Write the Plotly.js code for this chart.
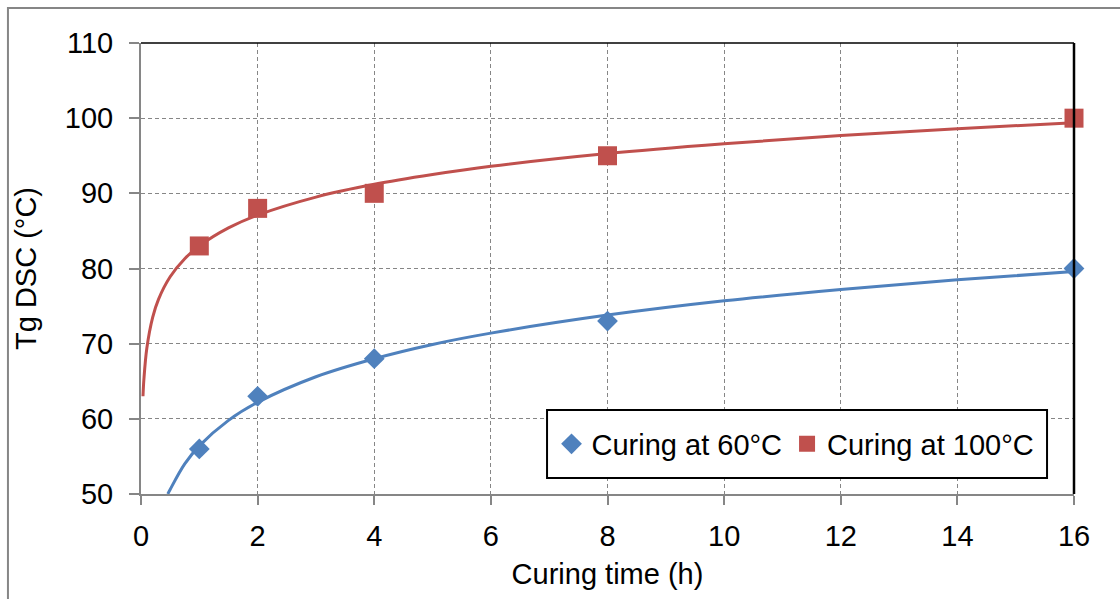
<!DOCTYPE html>
<html>
<head>
<meta charset="utf-8">
<script src="https://cdn.plot.ly/plotly-3.0.1.min.js"></script>
<style>html,body{margin:0;padding:0;background:#fff;}#chart{width:1120px;height:599px;}</style>
</head>
<body>
<div id="chart"></div>
<script>
// Measured points
const hours = [1, 2, 4, 8, 16];
const tg60 = [56, 63, 68, 73, 80];
const tg100 = [83, 88, 90, 95, 100];

// Logarithmic trendlines
const trend60X = [0.46, 0.5, 0.75, 1, 1.5, 2, 3, 4, 5, 6, 8, 10, 12, 14, 16];
const trend60Y = [50.0, 50.6, 54.0, 56.4, 59.8, 62.2, 65.6, 68.0, 69.9, 71.4, 73.8, 75.7, 77.2, 78.5, 79.6];
const trend100X = [0.034, 0.05, 0.1, 0.2, 0.3, 0.5, 0.75, 1, 1.5, 2, 3, 4, 5, 6, 8, 10, 12, 14, 16];
const trend100Y = [63.0, 65.3, 69.4, 73.5, 75.9, 78.9, 81.3, 83.0, 85.4, 87.1, 89.5, 91.2, 92.5, 93.6, 95.3, 96.6, 97.7, 98.6, 99.4];

const seriesNames = ['Curing at 60°C', 'Curing at 100°C'];
const xTicks = [0, 2, 4, 6, 8, 10, 12, 14, 16];
const yTicks = [50, 60, 70, 80, 90, 100, 110];

const blue = '#4F81BD';
const red = '#C0504D';
const grey = '#868686';
const font = 'Arial, "Liberation Sans", sans-serif';
const fs = 29;

const traces = [
  {x: trend60X, y: trend60Y, mode: 'lines', line: {color: blue, width: 3, shape: 'spline'}, showlegend: false, hoverinfo: 'skip'},
  {x: trend100X, y: trend100Y, mode: 'lines', line: {color: red, width: 3, shape: 'spline'}, showlegend: false, hoverinfo: 'skip'},
  {x: hours, y: tg60, mode: 'markers', name: seriesNames[0], cliponaxis: false, marker: {symbol: 'diamond', size: 16, color: blue}},
  {x: hours, y: tg100, mode: 'markers', name: seriesNames[1], cliponaxis: false, marker: {symbol: 'square', size: 19, color: red}}
];

const layout = {
  width: 1120, height: 599,
  margin: {l: 141, r: 46, t: 43, b: 105},
  paper_bgcolor: '#fff', plot_bgcolor: '#fff',
  font: {family: font, size: fs, color: '#000'},
  showlegend: true,
  legend: {
    orientation: 'h', x: 0.440, y: 0.1109, xanchor: 'left', yanchor: 'middle',
    bgcolor: 'rgba(0,0,0,0)', borderwidth: 0,
    font: {family: font, size: fs, color: '#000'}
  },
  xaxis: {
    range: [0, 16], tickvals: xTicks, ticktext: xTicks.map(String),
    showgrid: true, gridcolor: grey, gridwidth: 1, griddash: '4px,3px',
    showline: true, linecolor: grey, linewidth: 2,
    ticks: 'outside', ticklen: 9, tickwidth: 2, tickcolor: grey,
    ticklabelstandoff: 6,
    zeroline: false,
    title: {text: 'Curing time (h)', font: {family: font, size: fs}, standoff: 13}
  },
  yaxis: {
    range: [50, 110], tickvals: yTicks, ticktext: yTicks.map(String),
    showgrid: true, gridcolor: grey, gridwidth: 1, griddash: '4px,3px',
    showline: true, linecolor: grey, linewidth: 2,
    ticks: 'outside', ticklen: 10, tickwidth: 2, tickcolor: grey,
    ticklabelstandoff: 10,
    zeroline: false,
    title: {text: 'Tg DSC (°C)', font: {family: font, size: fs}, standoff: 20}
  },
  shapes: [
    {type: 'line', xref: 'paper', yref: 'paper', x0: 0, x1: 1, y0: 1, y1: 1, line: {color: '#000', width: 1.5}},
    {type: 'line', xref: 'paper', yref: 'paper', x0: 1, x1: 1, y0: 0, y1: 1, line: {color: '#000', width: 2.5}},
    {type: 'rect', xref: 'paper', yref: 'paper', x0: 0.4352, x1: 0.9711, y0: 0.0355, y1: 0.1863, fillcolor: '#fff', line: {color: '#000', width: 2}, layer: 'above'},
    {type: 'rect', xref: 'paper', yref: 'paper', x0: -0.1426, x1: 1.0611, y0: -0.25, y1: 1.0776, line: {color: grey, width: 2}, layer: 'below'}
  ]
};

Plotly.newPlot('chart', traces, layout, {displayModeBar: false, staticPlot: true});
</script>
</body>
</html>
